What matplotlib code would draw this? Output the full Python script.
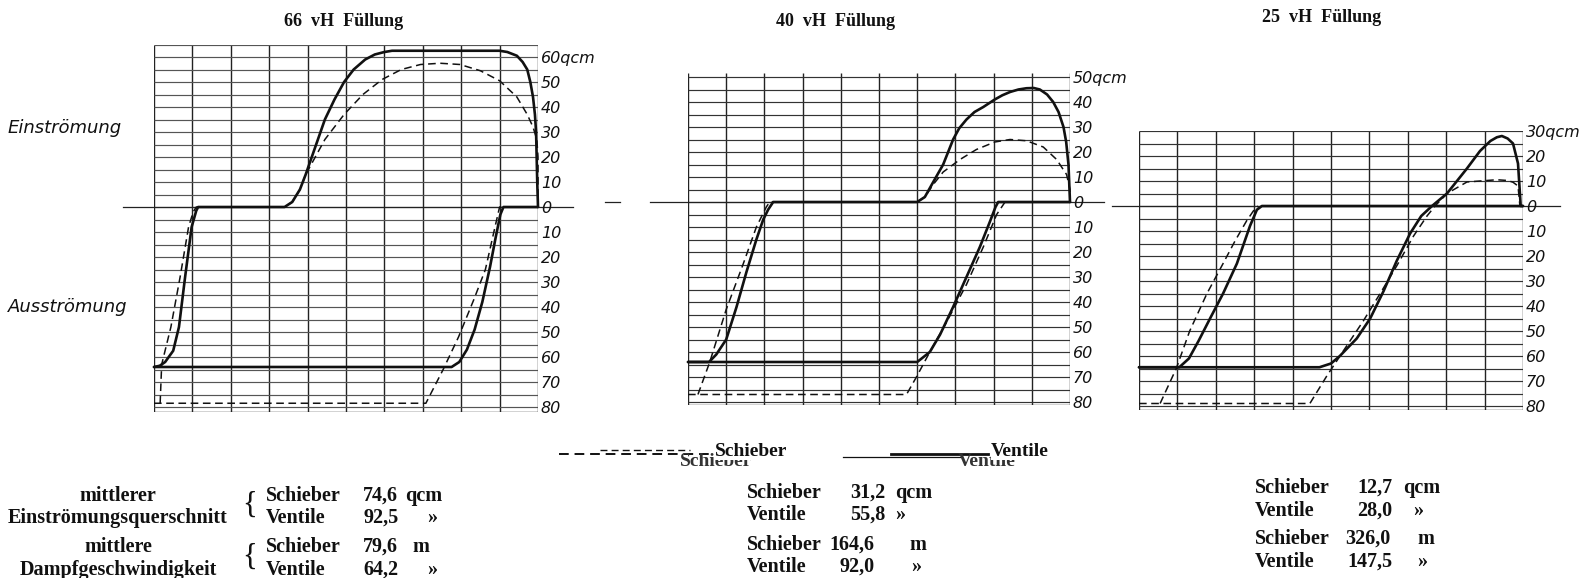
import matplotlib.pyplot as plt
import numpy as np
from matplotlib.lines import Line2D

W, H = 1591, 578
fig = plt.figure(figsize=(W / 100, H / 100), dpi=100)
fig.patch.set_facecolor('white')

# stroke position in tenths of the stroke, open area in qcm (outflow drawn negative)
# 66 vH Fuellung
v66_a_x = [0, 0.15, 0.29, 0.5, 0.65, 0.81, 0.98, 1.1, 1.15, 3.4, 3.6, 3.8, 3.95, 4.2, 4.45, 4.7, 4.95,
           5.2, 5.5, 5.75, 6.0, 6.2, 9.0, 9.2, 9.45, 9.6, 9.72, 9.8, 9.87, 9.92, 9.95, 9.98, 10.0]
v66_a_y = [-64, -63.5, -62, -57.5, -48, -28, -8, -1.5, 0, 0, 2, 7, 13, 24, 35, 43, 50,
           55, 59, 61, 62, 62.5, 62.5, 62, 60.5, 58, 55, 50, 44, 37, 30, 10, 0]
v66_b_x = [0, 7.75, 7.95, 8.15, 8.35, 8.55, 8.75, 8.9, 9.02, 9.1, 10]
v66_b_y = [-64, -64, -62, -57, -49, -38, -24, -12, -3, 0, 0]
s66_a_x = [0.16, 0.2, 0.44, 0.68, 0.9, 1.02, 1.1, 3.4, 3.6, 3.8, 3.95, 4.2, 4.45, 4.95, 5.44, 5.94,
           6.44, 6.94, 7.45, 7.97, 8.5, 9.0, 9.45, 9.72, 9.87, 9.97, 10.0, 10.0]
s66_a_y = [-78.5, -63, -48, -28, -8, -2, 0, 0, 2, 7, 13, 20, 27, 37, 45, 51,
           55, 57, 57.5, 57, 54.5, 50.5, 44, 37, 32, 27, 20, 0]
s66_b_x = [0, 7.08, 7.53, 7.93, 8.33, 8.63, 8.88, 9.0, 10]
s66_b_y = [-78.5, -78.5, -65, -52, -37, -25, -8, 0, 0]

# 40 vH Fuellung
v40_a_x = [0, 0.55, 0.74, 1.0, 1.27, 1.53, 1.79, 1.97, 2.1, 2.23, 6.0, 6.2, 6.42, 6.55, 6.68, 6.81,
           6.94, 7.1, 7.29, 7.5, 7.73, 8.03, 8.23, 8.43, 8.65, 8.86, 9.05, 9.21, 9.4, 9.56, 9.7,
           9.83, 9.9, 9.96, 10.0]
v40_a_y = [-64, -64, -61, -55, -42, -28, -15, -7, -3, 0, 0, 2, 8, 11.5, 15, 20,
           25, 29.5, 33, 36, 38, 41, 42.7, 44, 45, 45.5, 45.6, 45, 43, 40, 36,
           30, 24, 15, 0]
v40_b_x = [0, 6.0, 6.33, 6.6, 6.94, 7.29, 7.64, 7.9, 8.05, 8.12, 10]
v40_b_y = [-64, -64, -60, -53, -42, -30, -18, -8, -2, 0, 0]
s40_a_x = [0.26, 0.57, 1.0, 1.44, 1.79, 2.05, 2.14, 6.0, 6.2, 6.42, 6.68, 7.12, 7.55, 8.03, 8.43,
           8.86, 9.3, 9.65, 9.91, 10.0, 10.0]
s40_a_y = [-77, -64, -43, -25, -10, -2, 0, 0, 2, 7, 12, 17, 21, 24, 25,
           24.5, 22, 17, 11, 5, 0]
s40_b_x = [0, 5.72, 5.98, 6.33, 6.77, 7.29, 7.73, 8.08, 8.3]
s40_b_y = [-77, -77, -70, -60, -48, -33, -18, -5, 0]

# 25 vH Fuellung
v25_a_x = [0, 1.05, 1.3, 1.55, 1.85, 2.19, 2.55, 2.89, 3.07, 3.2, 10]
v25_a_y = [-64.5, -64.5, -61, -54, -45, -35, -23, -8, -1.5, 0, 0]
v25_b_x = [0, 4.7, 5.0, 5.23, 5.67, 6.02, 6.37, 6.71, 7.06, 7.35, 7.63, 8.02, 8.54, 8.88, 9.15,
           9.32, 9.45, 9.6, 9.74, 9.87, 9.92, 9.94, 10]
v25_b_y = [-64.5, -64.5, -63, -60, -53, -45, -34, -22, -11, -4, 0, 5, 15, 22, 26,
           27.5, 28, 27, 25, 17, 5, 0, 0]
s25_a_x = [0.55, 0.97, 1.32, 1.77, 2.19, 2.5, 2.8, 3.0, 3.1]
s25_a_y = [-79, -65, -50, -35, -23, -14, -6, -1.5, 0]
s25_b_x = [0, 4.45, 4.89, 5.32, 5.84, 6.28, 6.71, 7.15, 7.5, 7.71, 8.02, 8.54, 8.88, 9.32, 9.6,
           9.74, 9.87, 9.92]
s25_b_y = [-79, -79, -68, -58, -46, -35, -24, -12, -4, 0, 5, 9.6, 10, 10.5, 10.2,
           9.5, 8, 0]

titles = ['66  vH  Füllung', '40  vH  Füllung', '25  vH  Füllung']
top_vals = [60, 50, 30]

# mittlere Werte unter den Diagrammen
mq_schieber = ['74,6', '31,2', '12,7']
mq_ventile = ['92,5', '55,8', '28,0']
mv_schieber = ['79,6', '164,6', '326,0']
mv_ventile = ['64,2', '92,0', '147,5']

INK = '#111111'
PPU = 2.5  # pixel per qcm


def add_panel(x0, x1, zero, ylo, yhi, top_val, zero_ext, hcol):
    top = zero - yhi * PPU
    bot = zero - ylo * PPU
    ax = fig.add_axes([x0 / W, 1 - bot / H, (x1 - x0) / W, (bot - top) / H])
    ax.set_xlim(0, 10)
    ax.set_ylim(ylo, yhi)
    for s in ax.spines.values():
        s.set_visible(False)
    ax.set_xticks([])
    ax.vlines(np.arange(11), ylo, yhi, color='#222222', lw=1.0, zorder=1)
    ax.hlines(np.arange(-80, yhi + 0.1, 5), 0, 10, color=hcol, lw=0.85, zorder=1)
    ax.hlines([ylo], 0, 10, color='#222222', lw=1.0, zorder=1)
    for a, b in zero_ext:
        ax.plot([a, b], [0, 0], color='#222222', lw=0.9, clip_on=False, zorder=1)
    ticks = list(range(top_val, -81, -10))
    labels = [f'{abs(t)}' for t in ticks]
    labels[0] = f'{top_val}qcm'
    ax.yaxis.tick_right()
    ax.set_yticks(ticks)
    ax.set_yticklabels(labels, fontsize=11.5, style='italic', family='DejaVu Sans', color=INK)
    ax.tick_params(axis='y', length=0, pad=2)
    return ax


def draw(ax, va, vb, sa, sb):
    kw_s = dict(color=INK, lw=1.9, solid_joinstyle='round', solid_capstyle='round', zorder=3, clip_on=False)
    kw_d = dict(color=INK, lw=1.1, ls=(0, (5, 3)), zorder=2, clip_on=False)
    ax.plot(*sa, **kw_d)
    ax.plot(*sb, **kw_d)
    ax.plot(*va, **kw_s)
    ax.plot(*vb, **kw_s)


ax1 = add_panel(154, 538, 207, -82, 65, top_vals[0], [(-0.8, 10.9)], '#555555')
draw(ax1, (v66_a_x, v66_a_y), (v66_b_x, v66_b_y), (s66_a_x, s66_a_y), (s66_b_x, s66_b_y))
ax2 = add_panel(688, 1070, 202, -81, 51.5, top_vals[1], [(-2.17, -1.78), (-1.0, 10.9)], '#333333')
draw(ax2, (v40_a_x, v40_a_y), (v40_b_x, v40_b_y), (s40_a_x, s40_a_y), (s40_b_x, s40_b_y))
ax3 = add_panel(1139, 1523, 206, -81.5, 30, top_vals[2], [(-0.7, 10.96)], '#333333')
draw(ax3, (v25_a_x, v25_a_y), (v25_b_x, v25_b_y), (s25_a_x, s25_a_y), (s25_b_x, s25_b_y))

serif = 'Liberation Serif'


def ftext(x, y, s, **kw):
    kw.setdefault('family', serif)
    kw.setdefault('fontsize', 14.5)
    kw.setdefault('fontweight', 'bold')
    kw.setdefault('va', 'center')
    kw.setdefault('color', INK)
    return fig.text(x / W, 1 - y / H, s, **kw)


# titles
for cx, cy, t in zip([344, 836, 1322], [21, 22, 17], titles):
    ftext(cx, cy, t, ha='center', fontsize=13)

# side labels
fig.text(8 / W, 1 - 128 / H, 'Einströmung', fontsize=13, style='italic', family='DejaVu Sans',
         va='center', color=INK)
fig.text(8 / W, 1 - 307 / H, 'Ausströmung', fontsize=13, style='italic', family='DejaVu Sans',
         va='center', color=INK)

# legend (with the doubled print of the original)
fig.add_artist(Line2D([559 / W, 713 / W], [1 - 454 / H] * 2, color=INK, lw=1.4, ls=(0, (5, 3))))
fig.add_artist(Line2D([600 / W, 690 / W], [1 - 450 / H] * 2, color=INK, lw=1.0, ls=(0, (5, 3))))
fig.add_artist(Line2D([843 / W, 960 / W], [1 - 457 / H] * 2, color=INK, lw=0.9))
fig.add_artist(Line2D([891 / W, 988 / W], [1 - 454 / H] * 2, color=INK, lw=2.0))
ftext(680, 461, 'Schieber', ha='left', fontsize=14, color='#333333')
ftext(958, 461, 'Ventile', ha='left', fontsize=14, color='#333333')
ftext(715, 451, 'Schieber', ha='left', fontsize=14,
      bbox=dict(facecolor='white', edgecolor='none', pad=0))
ftext(991, 451, 'Ventile', ha='left', fontsize=14,
      bbox=dict(facecolor='white', edgecolor='none', pad=0))

# bottom text, left block
ftext(118, 496, 'mittlerer', ha='center')
ftext(118, 518, 'Einströmungsquerschnitt', ha='center')
ftext(118, 547, 'mittlere', ha='center')
ftext(118, 570, 'Dampfgeschwindigkeit', ha='center')
ftext(250, 505, '{', ha='center', fontsize=22, fontweight='normal')
ftext(250, 557, '{', ha='center', fontsize=22, fontweight='normal')

rows_y = [[496, 518, 547, 570], [493, 515, 545, 567], [488, 511, 539, 562]]
name_x = [266, 747, 1255]
num_x = [[363, 363, 363, 363], [850, 850, 829, 840], [1357, 1357, 1345, 1347]]
unit_x = [[405, 427, 412, 427], [895, 895, 909, 911], [1403, 1413, 1417, 1417]]
names = ['Schieber', 'Ventile', 'Schieber', 'Ventile']
units = ['qcm', '»', 'm', '»']
for i in range(3):
    vals = [mq_schieber[i], mq_ventile[i], mv_schieber[i], mv_ventile[i]]
    for j in range(4):
        ftext(name_x[i], rows_y[i][j], names[j], ha='left')
        ftext(num_x[i][j], rows_y[i][j], vals[j], ha='left')
        ftext(unit_x[i][j], rows_y[i][j], units[j], ha='left')

fig.savefig('out.png', dpi=100, facecolor='white')
